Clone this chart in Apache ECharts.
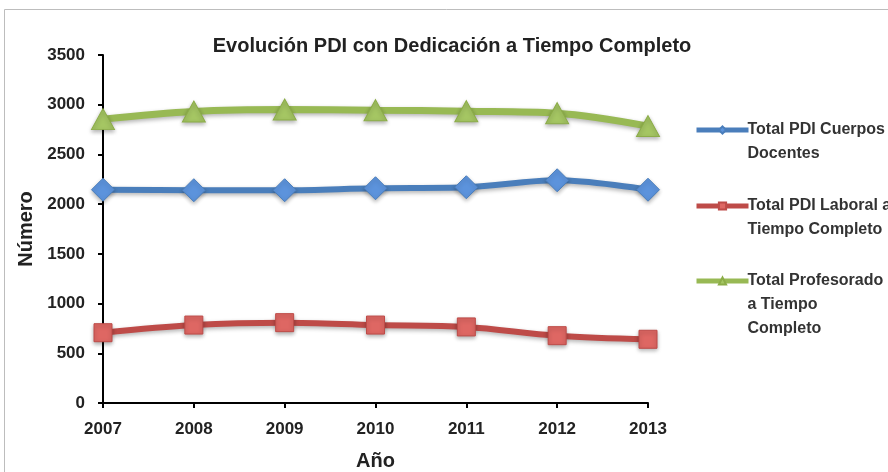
<!DOCTYPE html>
<html>
<head>
<meta charset="utf-8">
<script src="https://cdn.jsdelivr.net/npm/echarts@6/dist/echarts.min.js"></script>
<style>
  html, body { margin: 0; padding: 0; background: #fff; }
  #main_echarts { width: 888px; height: 472px; }
</style>
</head>
<body>
<div id="main_echarts"></div>
<script>
// datos
var anios = ['2007', '2008', '2009', '2010', '2011', '2012', '2013'];
var cuerposDocentes = [2145, 2140, 2140, 2160, 2170, 2240, 2145];
var laboralTC = [707, 784, 808, 784, 765, 677, 641];
var profesoradoTC = [2855, 2932, 2952, 2945, 2935, 2915, 2785];
var nombres = ['Total PDI Cuerpos Docentes', 'Total PDI Laboral a Tiempo Completo', 'Total Profesorado a Tiempo Completo'];
var textoLeyenda = ['\nTotal PDI Cuerpos\nDocentes', '\nTotal PDI Laboral a\nTiempo Completo', '\n\nTotal Profesorado\na Tiempo\nCompleto'];

var fuente = '"Liberation Sans", Arial, sans-serif';
var main_echarts = document.getElementById('main_echarts');
var myChart = echarts.init(main_echarts);

function leyenda(i, top) {
    return {
        data: [nombres[i]],
        left: 694,
        top: top,
        padding: 0,
        itemWidth: 52,
        itemHeight: 9,
        selectedMode: false,
        lineStyle: {width: 5},
        formatter: function () { return textoLeyenda[i]; },
        textStyle: {fontFamily: fuente, fontSize: 16, fontWeight: 'bold', color: '#333', lineHeight: 24, padding: [0, 0, 0, -6]}
    };
}

var sombra = {shadowBlur: 4, shadowOffsetY: 2, shadowColor: 'rgba(0,0,0,0.3)'};

var option = {
    animation: false,
    title: {
        text: 'Evolución PDI con Dedicación a Tiempo Completo',
        left: 447,
        textAlign: 'center',
        top: 31,
        textStyle: {fontFamily: fuente, fontSize: 20, fontWeight: 'bold', color: '#222'}
    },
    legend: [leyenda(0, 94), leyenda(1, 170), leyenda(2, 221)],
    grid: {left: 103, right: 240, top: 55, bottom: 69, containLabel: false, outerBoundsMode: 'none'},
    graphic: [{
        type: 'rect',
        shape: {x: 4.5, y: 9.5, width: 900, height: 500},
        style: {fill: 'none', stroke: '#bdbdbd', lineWidth: 1}
    }],
    xAxis: {
        type: 'category',
        data: anios,
        boundaryGap: false,
        name: 'Año',
        nameLocation: 'middle',
        nameGap: 48,
        nameTextStyle: {fontFamily: fuente, fontSize: 20, fontWeight: 'bold', color: '#222'},
        axisLine: {lineStyle: {color: '#000', width: 2}},
        axisTick: {alignWithLabel: true, length: 5, lineStyle: {color: '#000', width: 2}},
        axisLabel: {fontFamily: fuente, fontSize: 17, fontWeight: 'bold', color: '#222', margin: 18},
        splitLine: {show: false}
    },
    yAxis: {
        type: 'value',
        min: 0,
        max: 3500,
        interval: 500,
        name: 'Número',
        nameLocation: 'middle',
        nameGap: 64,
        nameTextStyle: {fontFamily: fuente, fontSize: 20, fontWeight: 'bold', color: '#222'},
        axisLine: {show: true, lineStyle: {color: '#000', width: 2}},
        axisTick: {show: true, length: 5, lineStyle: {color: '#000', width: 2}},
        axisLabel: {fontFamily: fuente, fontSize: 17, fontWeight: 'bold', color: '#222', margin: 18,
            formatter: function (v) { return String(v); }},
        splitLine: {show: false}
    },
    series: [{
        name: nombres[0],
        type: 'line',
        data: cuerposDocentes,
        smooth: 0.35,
        symbol: 'diamond',
        symbolSize: 23,
        color: '#4a7ebb',
        lineStyle: Object.assign({width: 6, color: '#4a7ebb'}, sombra),
        itemStyle: Object.assign({color: '#5c93dc', borderColor: '#4a7ebb', borderWidth: 1}, sombra)
    }, {
        name: nombres[1],
        type: 'line',
        data: laboralTC,
        smooth: 0.35,
        symbol: 'rect',
        symbolSize: 18,
        color: '#be4b48',
        lineStyle: Object.assign({width: 6, color: '#be4b48'}, sombra),
        itemStyle: Object.assign({color: '#de6763', borderColor: '#be4b48', borderWidth: 1}, sombra)
    }, {
        name: nombres[2],
        type: 'line',
        data: profesoradoTC,
        smooth: 0.35,
        symbol: 'triangle',
        symbolSize: [23, 21],
        color: '#98b954',
        lineStyle: Object.assign({width: 7, color: '#98b954'}, sombra),
        itemStyle: Object.assign({color: '#a5c663', borderColor: '#8cad48', borderWidth: 1}, sombra)
    }]
};
myChart.setOption(option);
window.onresize = myChart.resize;
</script>
</body>
</html>
